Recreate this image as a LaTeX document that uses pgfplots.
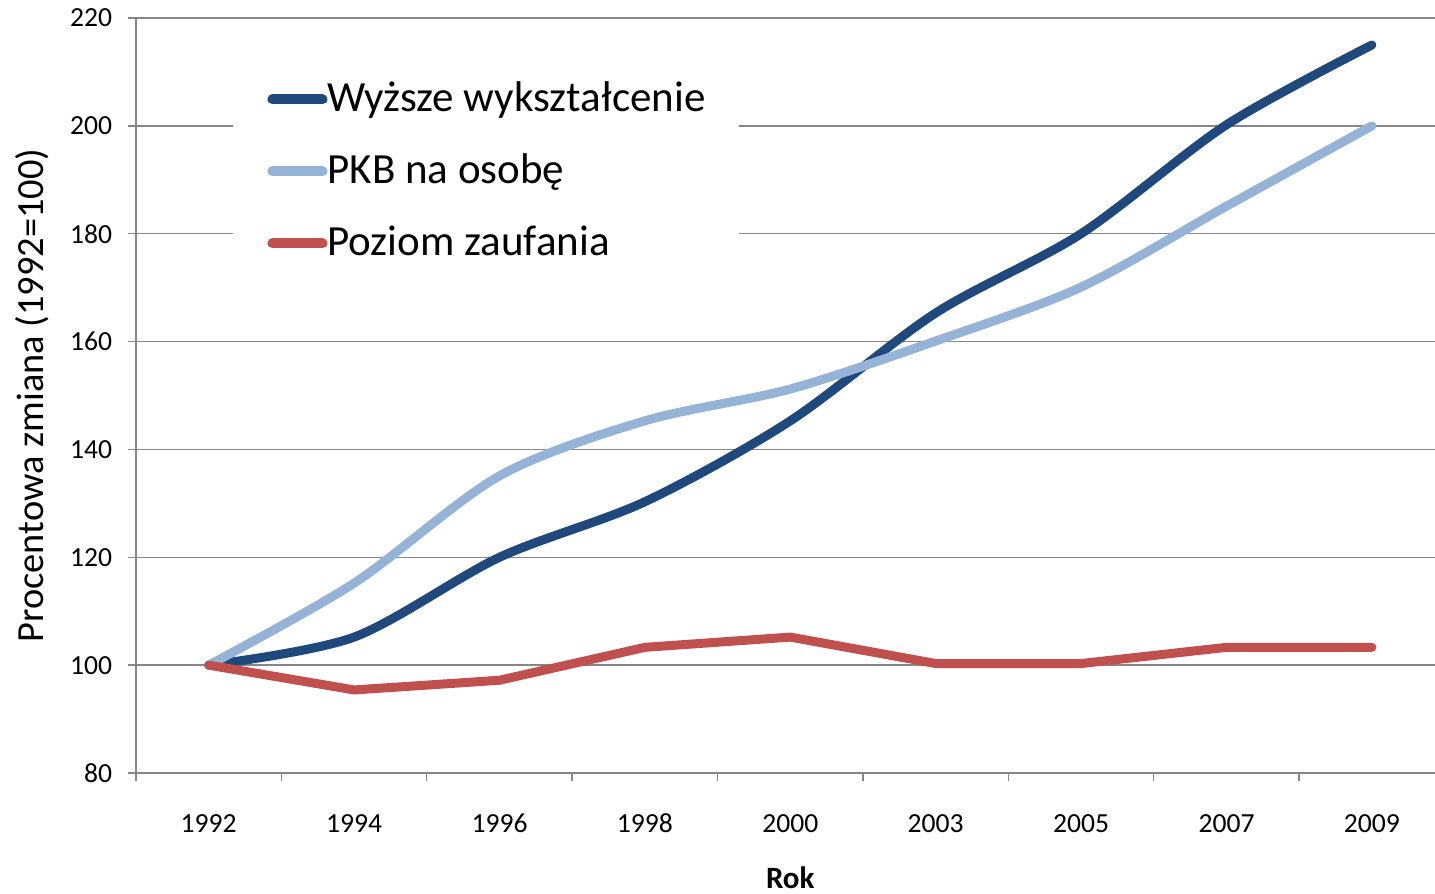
\documentclass[border=0pt]{standalone}
\usepackage{fontspec}
\setmainfont{Carlito}
\usepackage{pgfplots}
\pgfplotsset{compat=1.18}

\definecolor{ciemny}{HTML}{1F497D}
\definecolor{jasny}{HTML}{95B3D7}
\definecolor{czerwony}{HTML}{C0504D}
\definecolor{szary}{HTML}{868686}

\begin{document}
\begin{tikzpicture}
\begin{axis}[
    at={(0,0)}, anchor=south west,
    scale only axis,
    width=649.5pt, height=377.5pt,
    xmin=-0.5, xmax=8.434,
    ymin=80, ymax=220,
    ytick={80,100,...,220},
    xtick={0,...,8},
    xticklabels={1992,1994,1996,1998,2000,2003,2005,2007,2009},
    major x tick style={draw=none},
    minor xtick={-0.5,0.5,1.5,2.5,3.5,4.5,5.5,6.5,7.5},
    tick align=outside,
    major tick length=4pt, minor tick length=4pt,
    tick style={draw=szary, line width=0.7pt},
    axis x line*=bottom, axis y line*=left,
    axis line style={draw=szary, line width=0.7pt, -},
    ymajorgrids,
    grid style={draw=szary, line width=0.7pt},
    /pgf/number format/assume math mode=true,
    yticklabel style={font=\fontsize{13.8}{16}\selectfont, inner sep=0pt,
        anchor=east, xshift=-7.75pt},
    xticklabel style={font=\fontsize{13.8}{16}\selectfont, inner sep=0pt,
        anchor=base, yshift=-25.5pt},
    ylabel={Procentowa zmiana (1992=100)},
    ylabel style={font=\fontsize{19.2}{22}\selectfont, inner sep=0pt,
        at={(axis description cs:-0.0932,0.5)}, anchor=north},
    xlabel={Rok},
    xlabel style={font=\fontsize{15.5}{17}\selectfont\bfseries, inner sep=0pt,
        at={(axis cs:4,80)}, anchor=base, yshift=-57.5pt},
    legend style={at={(0.0747,0.9536)}, anchor=north west,
        draw=none, fill=white, inner xsep=17pt, inner ysep=14pt,
        font=\fontsize{21.5}{24}\selectfont,
        nodes={inner sep=0pt, text height=15pt, text depth=3pt},
        row sep=18pt,
        /tikz/every even column/.append style={column sep=3pt}},
    legend cell align=left,
    legend image code/.code={\draw[#1, line width=5pt, line cap=round] (0pt,0pt) -- (25pt,0pt);},
    every axis plot/.append style={line width=4.5pt, line cap=round, line join=round},
]
\addplot[ciemny, smooth] coordinates {
    (0,100) (1,105.2) (2,120) (3,130.3) (4,145.3) (5,165.3) (6,180) (7,200.2) (8,215)
};
\addlegendentry{Wyższe wykształcenie}
\addplot[jasny, smooth] coordinates {
    (0,100) (1,115.2) (2,135.1) (3,145.3) (4,151.2) (5,160.1) (6,170.1) (7,185.1) (8,200)
};
\addlegendentry{PKB na osobę}
\addplot[czerwony] coordinates {
    (0,100) (1,95.4) (2,97.2) (3,103.3) (4,105.2) (5,100.3) (6,100.3) (7,103.3) (8,103.3)
};
\addlegendentry{Poziom zaufania}
\end{axis}
\pgfresetboundingbox
\path[use as bounding box] (-68pt,-60.5pt) rectangle (649.5pt,386.5pt);
\end{tikzpicture}
\end{document}
